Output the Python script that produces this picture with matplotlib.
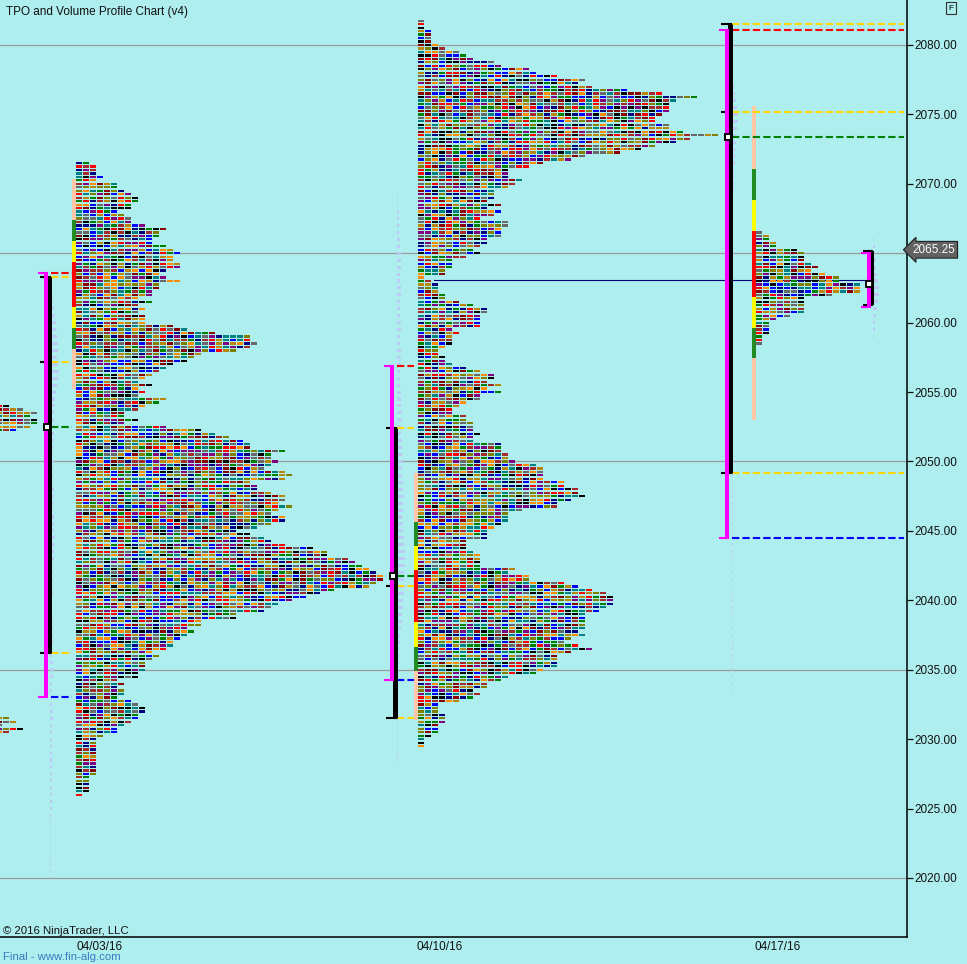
import numpy as np
import matplotlib
matplotlib.use("Agg")
import matplotlib.pyplot as plt

plt.rcParams['font.family'] = ['Liberation Sans', 'DejaVu Sans']

BG = "#AFEEEE"
TICK = 0.25

# ---- TPO counts per price row (from the top row down, one row per 0.25) ----
prof1_top = 2071.5
prof1_tpo = [2, 3, 3, 3, 4, 3, 6, 6, 7, 8, 9, 9, 8, 8, 6, 7, 8, 8, 10, 13, 12, 12, 11, 11,
             13, 14, 15, 14, 14, 15, 15, 13, 12, 13, 15, 12, 12, 11, 11, 9, 11, 9, 10, 9,
             10, 10, 10, 14, 16, 20, 25, 25, 26, 25, 23, 18, 17, 16, 14, 13, 12,
             11, 10, 9, 11, 9, 10, 9, 13, 12, 10, 9, 7, 7, 9, 7, 13, 18, 20, 22, 24, 25, 25,
             30, 28, 28, 29, 28, 27, 30, 31, 30, 25, 26, 26, 28, 30, 30, 29, 31, 29, 28, 30,
             30, 28, 26, 23, 25, 27, 28, 30, 34, 36, 36, 39, 40, 41, 42, 43, 44, 44, 43, 42,
             37, 35, 33, 31, 29, 28, 27, 23, 23, 18, 18, 16, 17, 16, 15, 14, 14, 13, 11, 12,
             11, 10, 10, 10, 9, 9, 6, 7, 6, 7, 7, 6, 8, 9, 10, 10, 9, 9, 8, 7, 6, 6, 4,
             3, 3, 3, 3, 3, 3, 3, 3, 3, 3, 3, 2, 2, 2, 2, 2, 1]

prof2_top = 2081.75
prof2_tpo = [1, 1, 1, 2, 2, 2, 2, 3, 4, 6, 7, 8, 11, 12, 16, 17, 20, 24, 23, 25, 30, 35, 40,
             37, 36, 36, 36, 35, 34, 34, 36, 36, 38, 43, 39, 37, 34, 32, 29, 24, 22, 18, 16,
             13, 13, 13, 15, 14, 13, 11, 11, 11, 10, 12, 10, 12, 11, 9, 13, 13, 12, 12, 12,
             10, 10, 9, 8, 9, 7,
             5, 5, 5, 4, 4, 1, 2, 3, 3, 3, 4, 4, 6, 8, 10, 10, 9, 9, 9, 9, 5, 6, 5, 5, 5, 4,
             3, 3, 4, 4, 5, 7, 9, 11, 11, 10, 12, 10, 12, 9, 9, 7, 6, 5, 5, 7, 7, 8, 8, 8, 9,
             8, 8, 12, 12, 12, 13, 13, 14, 17, 18, 18, 18, 18, 21, 21, 23, 23, 24, 22, 20, 20,
             15, 13, 13, 13, 12, 11, 10, 10, 10, 7, 7, 7, 8, 9, 9, 9, 9, 14, 13, 16, 16, 21,
             23, 25, 27, 28, 28, 28, 27, 26, 24, 24, 24, 24, 24, 23, 24, 22, 21, 23, 25, 22,
             20, 20, 20, 20, 18, 17, 13, 12, 10, 10, 8, 9, 8, 6, 3, 3, 3, 4, 4, 4, 3, 3, 3, 2,
             1, 1, 1]

prof3_top = 2066.5
prof3_tpo = [1, 2, 2, 3, 3, 6, 7, 7, 7, 8, 9, 8, 10, 12, 12, 15, 15, 15, 11, 7, 7, 7, 7, 7,
             5, 3, 2, 2, 2, 2, 1, 1, 1]

# tail of the previous week, cut by the left edge
prev_top_a = 2054.0
prev_tpo_a = [2, 4, 6, 5, 6, 6, 5, 3]
prev_top_b = 2031.5
prev_tpo_b = [2, 3, 1, 4, 2]

# ---- weekly levels ----
weeks = ['04/03/16', '04/10/16', '04/17/16']
range_hi = [2063.6, 2056.85, 2081.05]
range_lo = [2033.05, 2034.25, 2044.5]
ib_hi = [2063.3, 2052.4, 2081.5]
ib_lo = [2036.2, 2031.5, 2049.2]
mid_lvl = [2057.2, 2041.0, 2075.2]
poc_lvl = [2052.5, 2041.75, 2073.4]

# period colour strip beside each profile (edges, top to bottom)
strip_edges = [
    [2070.35, 2067.4, 2065.9, 2064.4, 2061.1, 2059.6, 2058.1, 2055.2],
    [2049.2, 2045.65, 2043.9, 2042.2, 2038.45, 2036.65, 2034.9, 2031.4],
    [2075.6, 2071.1, 2068.8, 2066.6, 2061.85, 2059.6, 2057.45, 2053.0],
]
strip_colors = ['#FFC6A8', '#228B22', '#FFFF00', '#FF0000', '#FFFF00', '#228B22', '#FFC6A8']

# volume profiles (0.5 point buckets, from the top down)
vol1_top = 2062.0
vol1 = [2, 3, 4, 5, 6, 6, 7, 8, 8, 7, 8, 9, 8, 7, 6, 5, 5, 4, 4, 5, 4, 4, 3, 3, 4,
        3, 3, 3, 4, 4, 3, 3, 4, 4, 4, 5, 5, 4, 4, 3, 3, 3, 3, 3, 2,
        2, 2, 3, 3, 3, 3, 2, 2, 3, 3, 3, 2, 2, 2, 2, 3, 3, 2, 2, 2,
        2, 2, 2, 2, 2, 2, 2, 2, 2, 2, 1, 1, 1, 1, 1, 1, 1, 1, 1]
vol2_top = 2069.0
vol2 = [1, 1, 2, 2, 2, 2, 3, 3, 4, 4,
        4, 3, 3, 4, 4, 3, 3, 3, 4, 4, 3, 3, 4, 4, 4, 3, 3, 3, 4,
        4, 4, 5, 5, 4, 4, 5, 5, 5, 6, 5, 5, 6, 6, 7, 6, 6, 5, 6, 6,
        7, 7, 8, 8, 8, 7, 7, 8, 7, 6, 6, 5, 5, 4,
        3, 3, 2, 2, 2, 1, 1, 1, 1, 1, 1, 1, 1, 1, 1, 1, 1, 1, 1]
vol3_top = 2077.5
vol3 = [1, 2, 3, 4, 5, 6, 6, 5, 4, 4, 3, 3, 3, 2, 2, 2, 2, 1, 1, 1] + [1] * 69
vol4_top = 2066.0
vol4 = [1, 2, 2, 3, 3, 4, 5, 6, 6, 5, 4, 3, 2, 2, 1]

day_rng = [2065.0, 2061.1]
day_ib = [2065.15, 2061.3]
day_poc = 2062.8
naked_poc = 2063.1
last_price = 2065.25

PAL = ['#696969', '#0000FF', '#A52A2A', '#808000', '#B8860B', '#FF0000', '#800080',
       '#008000', '#008080', '#000080', '#8B0000', '#000000', '#FF8C00']

# ---- layout (pixel-like x units) ----
prof_x = [76, 418, 756]
rng_x = [46, 392, 727]
strip_x = [72, 414, 752]
vol_x = [50, 397, 732, 873]


def block_color(r, c, seed):
    # fixed scramble so neighbouring blocks get different period colours
    x = (r * 92821 + c * 68917 + seed * 12553) & 0xffffffff
    x ^= x >> 16
    x = (x * 0x45d9f3b) & 0xffffffff
    x ^= x >> 16
    x = (x * 0x45d9f3b) & 0xffffffff
    x ^= x >> 16
    return PAL[x % len(PAL)]


def draw_tpo(ax, x0, top, rows, seed):
    ys, xs, cs = [], [], []
    for r, n in enumerate(rows):
        for c in range(n):
            ys.append(top - r * TICK)
            xs.append(x0 + c * 7)
            cs.append(block_color(r, c, seed))
    ax.barh(ys, 6, left=xs, height=0.16, color=cs, lw=0, zorder=3, antialiased=False)


def draw_vol(ax, x0, top, vals):
    ys = [top - i * 0.5 for i in range(len(vals))]
    ax.barh(ys, vals, left=x0, height=0.22, color='#BCCBF5', lw=0, zorder=2)


fig = plt.figure(figsize=(9.67, 9.64), dpi=100, facecolor=BG)
ax = fig.add_axes([0, 27 / 964, 907 / 967, 937 / 964], facecolor=BG)
ax.set_xlim(0, 907)
ax.set_ylim(2015.75, 2083.24)

for g in [2020, 2035, 2050, 2065, 2080]:
    ax.axhline(g, color='#9C9C9C', lw=0.9, zorder=0.5)

# profiles
draw_tpo(ax, prof_x[0], prof1_top, prof1_tpo, 1)
draw_tpo(ax, prof_x[1], prof2_top, prof2_tpo, 2)
draw_tpo(ax, prof_x[2], prof3_top, prof3_tpo, 3)
draw_tpo(ax, -4, prev_top_a, prev_tpo_a, 4)
draw_tpo(ax, -4, prev_top_b, prev_tpo_b, 5)

# volume
draw_vol(ax, vol_x[0], vol1_top, vol1)
draw_vol(ax, vol_x[1], vol2_top, vol2)
draw_vol(ax, vol_x[2], vol3_top, vol3)
draw_vol(ax, vol_x[3], vol4_top, vol4)

# colour strips
for sx, edges in zip(strip_x, strip_edges):
    for k, col in enumerate(strip_colors):
        ax.bar(sx, edges[k] - edges[k + 1], bottom=edges[k + 1], width=4,
               align='edge', color=col, lw=0, zorder=3)

# naked poc line
ax.plot([434, 866], [naked_poc] * 2, color='#000080', lw=0.8, zorder=2.5)

dash = dict(lw=1.5, dashes=(3.5, 1.5), zorder=3)
for i in range(3):
    xm = rng_x[i]
    xb = xm + 2.5
    x_end = prof_x[i] - 4 if i < 2 else 904
    ax.plot([xb, xb], [ib_lo[i], ib_hi[i]], color='black', lw=3.6,
            solid_capstyle='butt', zorder=4)
    for lv in (ib_hi[i], ib_lo[i]):
        ax.plot([xb - 9, xb + 2.5], [lv, lv], color='black', lw=1.5,
                solid_capstyle='butt', zorder=4)
    ax.plot([xm, xm], [range_lo[i], range_hi[i]], color='#FF00FF', lw=2.9,
            solid_capstyle='butt', zorder=5)
    for lv in (range_hi[i], range_lo[i]):
        ax.plot([xm - 8, xm + 2], [lv, lv], color='#FF00FF', lw=1.5,
                solid_capstyle='butt', zorder=5)
    ax.plot([xb - 9, xb - 5], [mid_lvl[i]] * 2, color='black', lw=1.5,
            solid_capstyle='butt', zorder=4)
    for lv, col in [(range_hi, '#FF0000'), (ib_hi, '#FFD700'), (mid_lvl, '#FFD700'),
                    (poc_lvl, '#008000'), (ib_lo, '#FFD700'), (range_lo, '#0000FF')]:
        ax.plot([xb + 2, x_end], [lv[i]] * 2, color=col, **dash)
    ax.plot(xm + 0.5, poc_lvl[i], marker='s', ms=4.5, mfc='white', mec='black',
            mew=1.4, zorder=6)

# current day bracket
ax.plot([871.5, 871.5], [day_ib[1], day_ib[0]], color='black', lw=2.9,
        solid_capstyle='butt', zorder=4)
for lv in day_ib:
    ax.plot([863, 873], [lv, lv], color='black', lw=1.5, solid_capstyle='butt', zorder=4)
ax.plot([869, 869], [day_rng[1], day_rng[0]], color='#FF00FF', lw=2.9,
        solid_capstyle='butt', zorder=5)
for lv in day_rng:
    ax.plot([861, 871], [lv, lv], color='#FF00FF', lw=1.5, solid_capstyle='butt', zorder=5)
ax.plot(868.5, day_poc, marker='s', ms=4, mfc='white', mec='black', mew=1.3, zorder=6)

# axes
for s in ('top', 'left'):
    ax.spines[s].set_visible(False)
ax.spines['right'].set_linewidth(1.1)
ax.spines['bottom'].set_linewidth(1.1)
ax.yaxis.tick_right()
yt = np.arange(2020, 2081, 5)
ax.set_yticks(yt)
# the 2065 label sits under the last-price box, as in the original
ax.set_yticklabels(['' if v == 2065 else '%.2f' % v for v in yt])
ax.tick_params(axis='y', length=4.3, width=0.9, pad=1, labelsize=8.5, colors='#101010')
ax.set_xticks([100, 440, 778])
ax.set_xticklabels(weeks)
ax.tick_params(axis='x', length=0, pad=3, labelsize=8.5, colors='#101010')

ax.text(1.006, last_price, '%.2f' % last_price, transform=ax.get_yaxis_transform(),
        ha='left', va='center', color='white', fontsize=8.5, zorder=10, clip_on=False,
        bbox=dict(boxstyle='larrow,pad=0.2', fc='#626262', ec='#202020', lw=0.8))

fig.text(6 / 967, 1 - 12 / 964, 'TPO and Volume Profile Chart (v4)', fontsize=8.5,
         va='center', ha='left', color='#101010')
fig.text(3 / 967, 1 - 931 / 964, '\u00a9 2016 NinjaTrader, LLC', fontsize=8.2,
         va='center', ha='left', color='#101010')
fig.text(3 / 967, 1 - 957 / 964, 'Final - www.fin-alg.com', fontsize=8.2,
         va='center', ha='left', color='#3A7CC0')
fig.text(951 / 967, 1 - 8 / 964, 'F', fontsize=6, va='center', ha='center',
         bbox=dict(boxstyle='square,pad=0.25', fc=BG, ec='#333333', lw=0.8))

fig.savefig('out.png', dpi=100, facecolor=BG)
